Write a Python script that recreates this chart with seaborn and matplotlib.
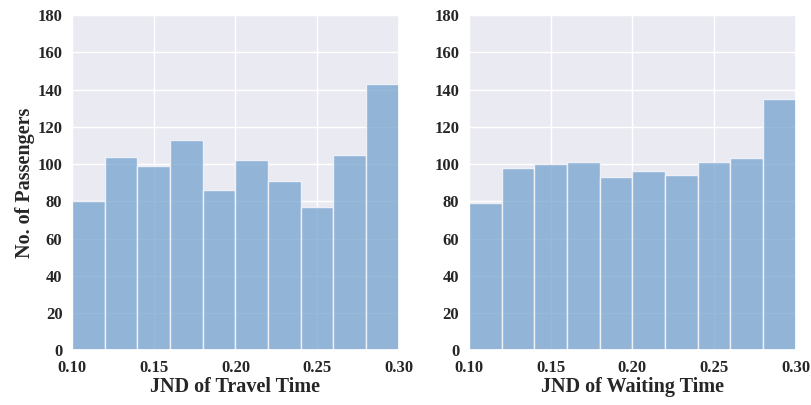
import numpy as np
import pandas as pd
import matplotlib
matplotlib.use('Agg')
import matplotlib.pyplot as plt
import seaborn as sns

# bin edges of the JND histograms
bin_edges = [0.10, 0.12, 0.14, 0.16, 0.18, 0.20, 0.22, 0.24, 0.26, 0.28, 0.30]
travel_counts = [80, 104, 99, 113, 86, 102, 91, 77, 105, 143]
waiting_counts = [79, 98, 100, 101, 93, 96, 94, 101, 103, 135]
x_labels = ['JND of Travel Time', 'JND of Waiting Time']

sns.set_theme(style='darkgrid')
plt.rcParams['font.family'] = ['Liberation Serif', 'DejaVu Serif']
plt.rcParams['font.weight'] = 'bold'

centers = [(a + b) / 2 for a, b in zip(bin_edges[:-1], bin_edges[1:])]

fig, axes = plt.subplots(1, 2, figsize=(8.11, 4.05), dpi=100)
for ax, counts, xlabel in zip(axes, [travel_counts, waiting_counts], x_labels):
    df = pd.DataFrame({'jnd': centers, 'n': counts})
    sns.histplot(data=df, x='jnd', weights='n', bins=bin_edges, ax=ax,
                 color='#75a2ce', alpha=0.75, edgecolor='#eef0f6', linewidth=1)
    ax.set_xlim(0.1, 0.3)
    ax.set_ylim(0, 180)
    ax.set_xticks([0.10, 0.15, 0.20, 0.25, 0.30])
    ax.set_xticklabels(['0.10', '0.15', '0.20', '0.25', '0.30'])
    ax.set_yticks(range(0, 181, 20))
    ax.tick_params(axis='both', labelsize=12, pad=1)
    for lab in ax.get_xticklabels() + ax.get_yticklabels():
        lab.set_fontweight('bold')
    ax.set_xlabel(xlabel, fontsize=14.5, fontweight='bold', labelpad=1)
    ax.set_ylabel('')
axes[0].set_ylabel('No. of Passengers', fontsize=14.5, fontweight='bold', labelpad=2)

fig.subplots_adjust(left=0.089, right=0.981, bottom=0.135, top=0.963, wspace=0.215)
fig.savefig('out.png', dpi=100)
